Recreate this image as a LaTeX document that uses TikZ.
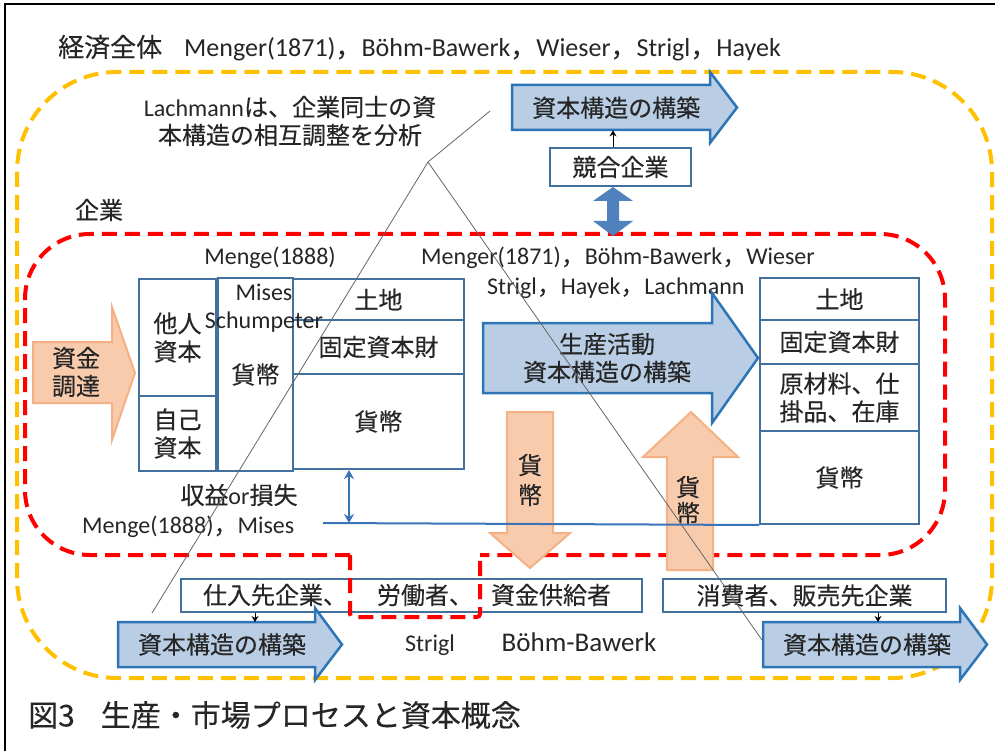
\documentclass[tikz,border=0pt]{standalone}
\usepackage{fontspec}
\setmainfont{Carlito}
\newfontfamily\jp[FakeBold=0.3]{Noto Sans CJK JP}
\usetikzlibrary{arrows.meta}
\definecolor{txt}{HTML}{262626}
\definecolor{boxc}{HTML}{41719C}
\definecolor{arrc}{HTML}{2E75B6}
\definecolor{arrf}{HTML}{B9CDE5}
\definecolor{orb}{HTML}{F4B183}
\definecolor{orf}{HTML}{F8CBAD}
\definecolor{yel}{HTML}{FFC000}
\definecolor{dblue}{HTML}{4F81BD}
\definecolor{lblue}{HTML}{3B73B9}
\tikzset{
  jt/.style={font=\jp\fontsize{24}{28}\selectfont, text=txt, inner sep=0pt, align=center},
  lt/.style={font=\fontsize{24}{28}\selectfont, text=txt, inner sep=0pt, align=center},
  box/.style={draw=boxc, line width=2pt, fill=white, inner sep=0pt, anchor=north west,
    font=\jp\fontsize{24}{28}\selectfont, text=txt, align=center},
  barrow/.style={draw=arrc, line width=2.5pt, fill=arrf, line join=miter},
  oarrow/.style={draw=orb, line width=2pt, fill=orf, line join=miter},
  ydash/.style={draw=yel, line width=4pt, dash pattern=on 15pt off 8pt},
  rdash/.style={draw=red, line width=4pt, dash pattern=on 15pt off 8pt},
  blk/.style={-{Stealth[length=6pt,width=7pt]}, line width=1pt, black},
  thinln/.style={draw=black!60, line width=0.8pt},
  shaft/.style={inner sep=0pt, anchor=north west},
}
\begin{document}
\begin{tikzpicture}[x=1pt,y=-1pt]
\useasboundingbox (0,0) rectangle (995,751);
% frame
\draw[line width=2.5pt, black] (5,760) -- (5,4) -- (1000,4);

% yellow dashed (economy)
\draw[ydash, rounded corners=100pt] (17,72) rectangle (992,678);

% title texts
\node[lt, font=\fontsize{26}{30}\selectfont, anchor=west] (title) at (58,48)
  {{\jp 経済全体}\hspace{22pt}Menger(1871){\jp ，}Böhm-Bawerk{\jp ，}Wieser{\jp ，}Strigl{\jp ，}Hayek};
\node[lt] (lach) at (290,121) {Lachmann{\jp は、企業同士の資}\\{\jp 本構造の相互調整を分析}};
\node[jt] (kigyo) at (99,210) {企業};

% top arrow
\draw[barrow] (512,85) -- (710,85) -- (710,72) -- (737,107.5) -- (710,143) -- (710,130) -- (512,130) -- cycle;
\node[shaft, minimum width=198pt, minimum height=45pt, jt] (topA) at (512,85) {\hspace{10pt}資本構造の構築};

% competing firms
\node[box, minimum width=141pt, minimum height=38pt] (kyogo) at (549,147) {競合企業};
\coordinate (cx) at (613,0);
\draw[blk] (kyogo.north -| cx) -- (topA.south -| cx);

% labels in firm
\node[lt] (menge1) at (270,258) {Menge(1888)};
\node[lt, anchor=west] (menger2) at (421,258) {Menger(1871){\jp ，}Böhm-Bawerk{\jp ，}Wieser};
\node[lt, anchor=west] (strigl1) at (487,288) {Strigl{\jp ，}Hayek{\jp ，}Lachmann};

% left balance sheet
\node[box, minimum width=77pt, minimum height=117pt] (tanin) at (138,278) {他人\\資本};
\node[box, minimum width=77pt, minimum height=75pt] (jiko) at (138,395) {自己\\資本};
\node[box, minimum width=75pt, minimum height=193pt] (lkahei) at (217,277) {貨幣};
\node[box, minimum width=171pt, minimum height=41pt] (ltochi) at (292,278) {土地};
\node[box, minimum width=171pt, minimum height=54pt] (lkotei) at (292,319) {固定資本財};
\node[box, minimum width=171pt, minimum height=95pt] (lmoney) at (292,373) {貨幣};
\node[lt] (mises) at (264,292) {Mises};
\node[lt] (schum) at (264,322) {Schumpeter};

% right balance sheet
\node[box, minimum width=159pt, minimum height=42pt] (rtochi) at (759,277) {土地};
\node[box, minimum width=159pt, minimum height=44pt] (rkotei) at (759,319) {固定資本財};
\node[box, minimum width=159pt, minimum height=67pt] (rgen) at (759,363) {原材料、仕\\掛品、在庫};
\node[box, minimum width=159pt, minimum height=93pt] (rmoney) at (759,430) {貨幣};

% other texts
\node[lt] (shueki) at (239,495) {{\jp 収益}or{\jp 損失}};
\node[lt, anchor=west] (menge3) at (82,527) {Menge(1888){\jp ，}Mises};

% bottom boxes
\node[box, minimum width=461pt, minimum height=33pt] (supp) at (180,578) {};
\node[jt] (s1) at (275,595) {仕入先企業、};
\node[jt] (s2) at (425,595) {労働者、};
\node[jt] (s3) at (551,595) {資金供給者};
\node[box, minimum width=283pt, minimum height=33pt] (cons) at (662,578) {消費者、販売先企業};
\node[lt] (strigl2) at (430,645) {Strigl};
\node[lt, font=\fontsize{27}{30}\selectfont] (bohm) at (579,642) {Böhm-Bawerk};

% red dashed (firm)
\draw[rdash, rounded corners=65pt] (350,555) -- (25,555) -- (25,234) -- (945,234) -- (945,555) -- (480,555);
\draw[rdash, rounded corners=3pt] (350,555) -- (350,617) -- (480,617) -- (480,555);

% funding arrow
\draw[oarrow] (33,342) -- (112,342) -- (112,307) -- (135,373) -- (112,440) -- (112,403) -- (33,403) -- cycle;
\node[jt] (shikin) at (76,372) {資金\\調達};

% production arrow
\draw[barrow] (483,323) -- (712,323) -- (712,293) -- (758,358) -- (712,423) -- (712,393) -- (483,393) -- cycle;
\node[jt] (seisan) at (607,358) {生産活動\\資本構造の構築};

% money arrows
\draw[oarrow] (507,412) -- (553,412) -- (553,533) -- (570,533) -- (530,568) -- (490,533) -- (507,533) -- cycle;
\node[jt, font=\jp\fontsize{24}{30}\selectfont] (kahei1) at (530,480) {貨\\幣};
\draw[oarrow] (691,412) -- (738,457) -- (713,457) -- (713,570) -- (667,570) -- (667,457) -- (643,457) -- cycle;
\node[jt, font=\jp\fontsize{24}{26}\selectfont] (kahei2) at (688,500) {貨\\幣};

% profit / loss line
\coordinate (hl) at (323,523);
\coordinate (pl) at (349,523);
\draw[lblue, line width=2pt] (hl) -- (rmoney.south west);
\draw[lblue, line width=2pt, {Stealth[length=9pt,width=10pt]}-{Stealth[length=9pt,width=10pt]}] (lmoney.south -| pl) -- (pl);

% double arrow firm <-> competitors
\fill[dblue] (613,187) -- (633,201) -- (619,201) -- (619,221) -- (633,221) -- (613,236) -- (593,221) -- (607,221) -- (607,201) -- (593,201) -- cycle;

% bottom arrows
\draw[barrow] (118,622) -- (315,622) -- (315,608) -- (342,644.5) -- (315,680) -- (315,667) -- (118,667) -- cycle;
\node[shaft, minimum width=197pt, minimum height=45pt] (blA) at (118,622) {};
\node[jt] (blt) at (222,644.5) {資本構造の構築};
\draw[barrow] (763,622) -- (960,622) -- (960,608) -- (987,644.5) -- (960,680) -- (960,667) -- (763,667) -- cycle;
\node[shaft, minimum width=197pt, minimum height=45pt] (brA) at (763,622) {};
\node[jt] (brt) at (867,644.5) {資本構造の構築};
\coordinate (c1) at (255,0);
\coordinate (c2) at (878,0);
\draw[blk] (supp.south -| c1) -- (blA.north -| c1);
\draw[blk] (cons.south -| c2) -- (brA.north -| c2);

% diagonal thin lines
\coordinate (apex) at (428,162);
\coordinate (d0) at (490,111);
\coordinate (d1) at (152,613);
\coordinate (d2) at (762,640);
\draw[thinln] (d0) -- (apex) -- (d1);
\draw[thinln] (apex) -- (d2);

% caption
\node[jt, font=\jp\fontsize{30}{34}\selectfont, anchor=west] (cap) at (28,715) {図3\hspace{26pt}生産・市場プロセスと資本概念};
\end{tikzpicture}
\end{document}
